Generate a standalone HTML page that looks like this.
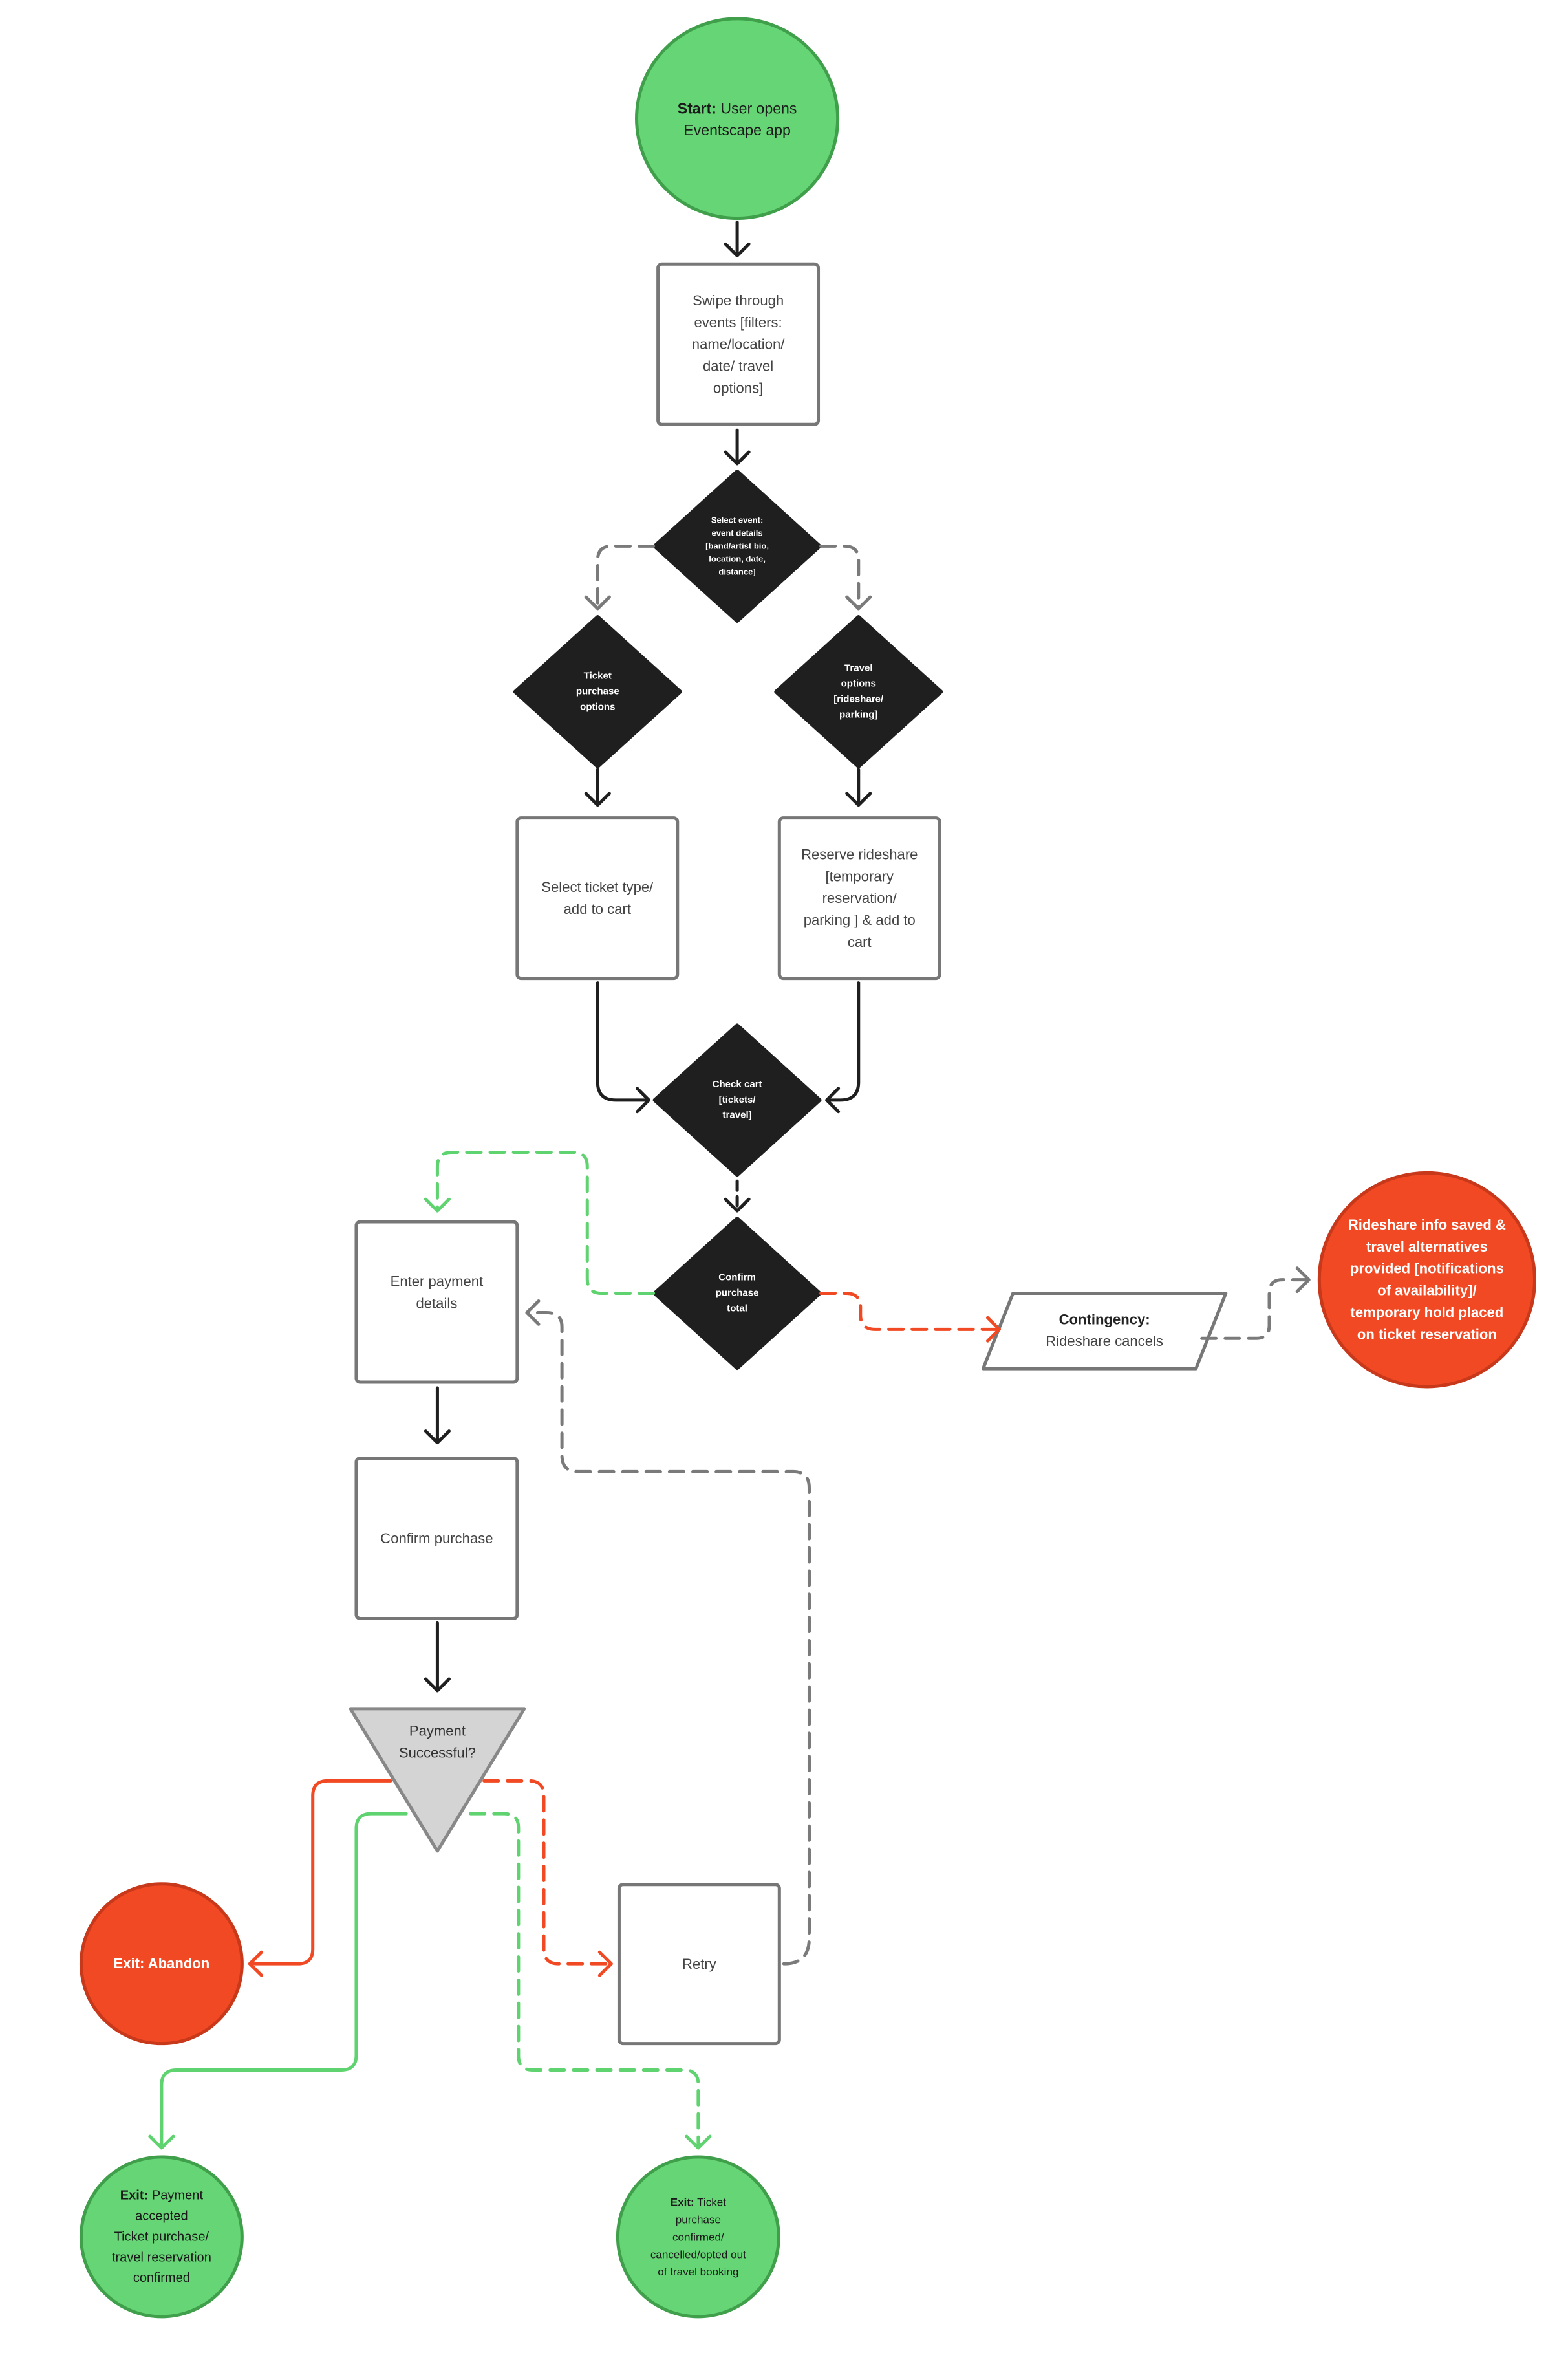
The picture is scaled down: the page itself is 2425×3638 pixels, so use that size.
<!DOCTYPE html>
<html><head><meta charset="utf-8"><style>
body{margin:0;background:#fff;overflow:hidden;}
#o{width:2425px;height:3638px;overflow:hidden;position:relative;}
#c{position:relative;width:2425px;height:3638px;font-family:"Liberation Sans",sans-serif;transform-origin:0 0;transform:translate(2px,0) scale(1.0036,0.9958);}
svg{position:absolute;left:0;top:0;}
.t{position:absolute;display:flex;align-items:center;justify-content:center;text-align:center;color:#444;font-size:22px;line-height:34px;}
.w{color:#fff;font-weight:bold;}
.d{color:#fff;font-weight:bold;font-size:13px;line-height:20px;}
</style></head><body><div id="o"><div id="c">
<svg width="2425" height="3638" viewBox="0 0 2425 3638" fill="none" stroke-linecap="round" stroke-linejoin="round">
<circle cx="1134" cy="184" r="155" fill="#66d575" stroke="#3f9f4b" stroke-width="5"/>
<rect x="1012" y="410" width="247" height="249" rx="6" fill="#fff" stroke="#777" stroke-width="5"/>
<polygon points="1134,732 1261,848 1134,964 1007,848" fill="#1f1f1f" stroke="#1f1f1f" stroke-width="6"/>
<polygon points="919,958 1046,1074 919,1190 792,1074" fill="#1f1f1f" stroke="#1f1f1f" stroke-width="6"/>
<polygon points="1321,958 1448,1074 1321,1190 1194,1074" fill="#1f1f1f" stroke="#1f1f1f" stroke-width="6"/>
<rect x="795" y="1270" width="247" height="249" rx="6" fill="#fff" stroke="#777" stroke-width="5"/>
<rect x="1199" y="1270" width="247" height="249" rx="6" fill="#fff" stroke="#777" stroke-width="5"/>
<polygon points="1134,1592 1261,1708 1134,1824 1007,1708" fill="#1f1f1f" stroke="#1f1f1f" stroke-width="6"/>
<polygon points="1134,1892 1261,2008 1134,2124 1007,2008" fill="#1f1f1f" stroke="#1f1f1f" stroke-width="6"/>
<rect x="547" y="1897" width="248" height="249" rx="6" fill="#fff" stroke="#777" stroke-width="5"/>
<polygon points="1559,2008 1887,2008 1841,2125 1513,2125" fill="#fff" stroke="#777" stroke-width="5"/>
<circle cx="2197" cy="1987" r="166" fill="#f04923" stroke="#c8381a" stroke-width="5"/>
<rect x="547" y="2264" width="248" height="249" rx="6" fill="#fff" stroke="#777" stroke-width="5"/>
<polygon points="538,2653 806,2653 672,2874" fill="#d4d4d4" stroke="#888" stroke-width="5"/>
<circle cx="247" cy="3049" r="124" fill="#f04923" stroke="#c8381a" stroke-width="5"/>
<rect x="952" y="2926" width="247" height="247" rx="6" fill="#fff" stroke="#777" stroke-width="5"/>
<circle cx="247" cy="3473" r="124" fill="#66d575" stroke="#3f9f4b" stroke-width="5"/>
<circle cx="1074" cy="3473" r="124" fill="#66d575" stroke="#3f9f4b" stroke-width="5"/>
<g stroke="#1f1f1f" stroke-width="5">
<path d="M1134 345V397M1116 379L1134 397L1152 379"/>
<path d="M1134 668V720M1116 702L1134 720L1152 702"/>
<path d="M919 1195V1250M901 1232L919 1250L937 1232"/>
<path d="M1321 1195V1250M1303 1232L1321 1250L1339 1232"/>
<path d="M919 1526V1680Q919 1708 947 1708H998M980 1690L998 1708L980 1726"/>
<path d="M1321 1526V1680Q1321 1708 1293 1708H1272M1290 1690L1272 1708L1290 1726"/>
<path d="M1134 1834V1880" stroke-dasharray="14 10"/><path d="M1116 1862L1134 1880L1152 1862"/>
<path d="M672 2155V2240M654 2222L672 2240L690 2222"/>
<path d="M672 2520V2625M654 2607L672 2625L690 2607"/>
</g>
<g stroke="#7a7a7a" stroke-width="5">
<path d="M1005 848H940Q919 848 919 870V945" stroke-dasharray="22 14"/><path d="M901 927L919 945L937 927"/>
<path d="M1263 848H1300Q1321 848 1321 870V945" stroke-dasharray="22 14"/><path d="M1303 927L1321 945L1339 927"/>
<path d="M1850 2078H1934Q1954 2078 1954 2058V2007Q1954 1987 1974 1987H2015" stroke-dasharray="22 14"/><path d="M1997 1969L2015 1987L1997 2005"/>
<path d="M1206 3049Q1245 3049 1245 3010V2310Q1245 2285 1220 2285H889Q864 2285 864 2260V2060Q864 2038 840 2038H810" stroke-dasharray="22 14"/><path d="M828 2020L810 2038L828 2056"/>
</g>
<g stroke="#5fd36f" stroke-width="5">
<path d="M1005 2008H925Q903 2008 903 1986V1811Q903 1789 881 1789H694Q672 1789 672 1811V1880" stroke-dasharray="22 14"/><path d="M654 1862L672 1880L690 1862"/>
<path d="M624 2816H570Q547 2816 547 2839V3191Q547 3214 524 3214H270Q247 3214 247 3237V3335"/><path d="M229 3317L247 3335L265 3317"/>
<path d="M723 2816H775Q797 2816 797 2838V3192Q797 3214 819 3214H1052Q1074 3214 1074 3236V3335" stroke-dasharray="22 14"/><path d="M1056 3317L1074 3335L1092 3317"/>
</g>
<g stroke="#f04923" stroke-width="5">
<path d="M1263 2008H1302Q1324 2008 1324 2030V2042Q1324 2064 1346 2064H1538" stroke-dasharray="22 14"/><path d="M1520 2046L1538 2064L1520 2082"/>
<path d="M600 2765H503Q480 2765 480 2788V3026Q480 3049 457 3049H383"/><path d="M401 3031L383 3049L401 3067"/>
<path d="M744 2765H813Q836 2765 836 2788V3026Q836 3049 859 3049H940" stroke-dasharray="22 14"/><path d="M922 3031L940 3049L922 3067"/>
</g>
</svg>
<div class="t" style="left:979px;top:130px;width:310px;height:110px;color:#1a1a1a;font-size:23px;"><div><b>Start:</b> User opens<br>Eventscape app</div></div>
<div class="t" style="left:1022px;top:420px;width:227px;height:229px;">Swipe through<br>events [filters:<br>name/location/<br>date/ travel<br>options]</div>
<div class="t d" style="left:1054px;top:778px;width:160px;height:140px;">Select event:<br>event details<br>[band/artist bio,<br>location, date,<br>distance]</div>
<div class="t d" style="left:859px;top:1024px;width:120px;height:100px;font-size:15px;line-height:24px;">Ticket<br>purchase<br>options</div>
<div class="t d" style="left:1261px;top:1014px;width:120px;height:120px;font-size:15px;line-height:24px;">Travel<br>options<br>[rideshare/<br>parking]</div>
<div class="t" style="left:805px;top:1280px;width:227px;height:229px;">Select ticket type/<br>add to cart</div>
<div class="t" style="left:1209px;top:1280px;width:227px;height:229px;">Reserve rideshare<br>[temporary<br>reservation/<br>parking ] &amp; add to<br>cart</div>
<div class="t d" style="left:1074px;top:1658px;width:120px;height:100px;font-size:15px;line-height:24px;">Check cart<br>[tickets/<br>travel]</div>
<div class="t d" style="left:1074px;top:1958px;width:120px;height:100px;font-size:15px;line-height:24px;">Confirm<br>purchase<br>total</div>
<div class="t" style="left:557px;top:1907px;width:228px;height:229px;"><div style="margin-top:-30px">Enter payment<br>details</div></div>
<div class="t" style="left:1540px;top:2010px;width:320px;height:112px;"><div><b style="color:#222">Contingency:</b><br>Rideshare cancels</div></div>
<div class="t w" style="left:2040px;top:1860px;width:314px;height:254px;font-size:22px;line-height:34px;">Rideshare info saved &amp;<br>travel alternatives<br>provided [notifications<br>of availability]/<br>temporary hold placed<br>on ticket reservation</div>
<div class="t" style="left:557px;top:2274px;width:228px;height:229px;">Confirm purchase</div>
<div class="t" style="left:572px;top:2650px;width:200px;height:110px;color:#333;">Payment<br>Successful?</div>
<div class="t w" style="left:127px;top:2999px;width:240px;height:100px;">Exit: Abandon</div>
<div class="t" style="left:962px;top:2936px;width:227px;height:227px;">Retry</div>
<div class="t" style="left:127px;top:3373px;width:240px;height:200px;color:#1a1a1a;font-size:20px;line-height:32px;"><div><b>Exit:</b> Payment<br>accepted<br>Ticket purchase/<br>travel reservation<br>confirmed</div></div>
<div class="t" style="left:954px;top:3373px;width:240px;height:200px;color:#1a1a1a;font-size:17px;line-height:27px;"><div><b>Exit:</b> Ticket<br>purchase<br>confirmed/<br>cancelled/opted out<br>of travel booking</div></div>
</div></div></body></html>
